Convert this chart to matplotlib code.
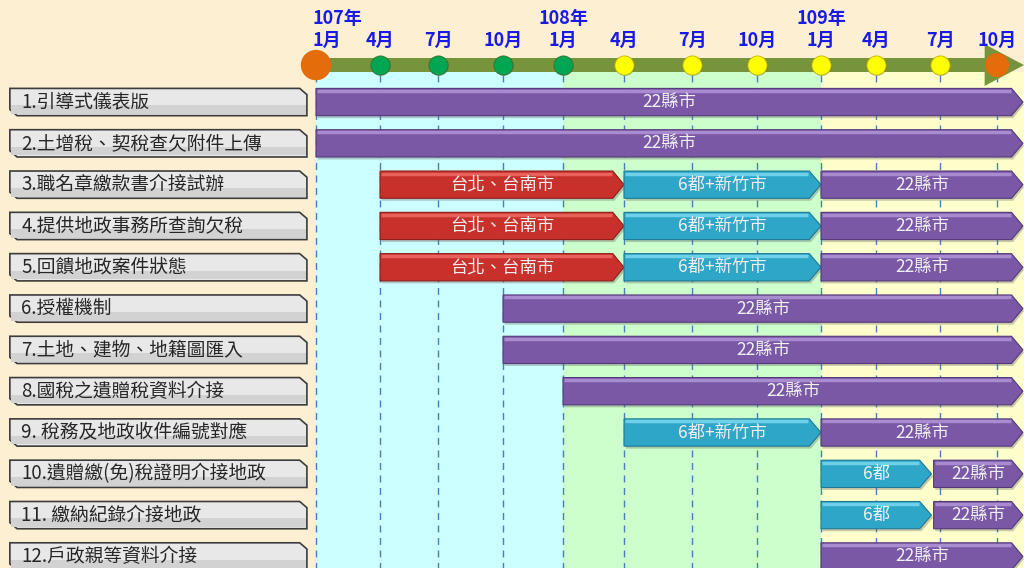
import matplotlib
matplotlib.use("Agg")
import matplotlib.pyplot as plt
from matplotlib.patches import Polygon, Rectangle
import numpy as np

plt.rcParams['font.family'] = ['Noto Sans CJK TC', 'DejaVu Sans']

# months counted from 107年1月
tick_months = [0, 3, 6, 9, 12, 15, 18, 21, 24, 27, 30, 33]
tick_labels = ['1月', '4月', '7月', '10月', '1月', '4月', '7月', '10月', '1月', '4月', '7月', '10月']
year_months = [0, 12, 24]
year_labels = ['107年', '108年', '109年']
dot_colors = ['#E46C0A', '#00A651', '#00A651', '#00A651', '#00A651',
              '#FFFF00', '#FFFF00', '#FFFF00', '#FFFF00', '#FFFF00', '#FFFF00', '#E46C0A']

tasks = ['1.引導式儀表版', '2.土增稅、契稅查欠附件上傳', '3.職名章繳款書介接試辦',
         '4.提供地政事務所查詢欠稅', '5.回饋地政案件狀態', '6.授權機制',
         '7.土地、建物、地籍圖匯入', '8.國稅之遺贈稅資料介接', '9. 稅務及地政收件編號對應',
         '10.遺贈繳(免)稅證明介接地政', '11. 繳納紀錄介接地政', '12.戶政親等資料介接']

OPEN = 34.25  # runs on past the right edge
seg_row = [0, 1, 2, 2, 2, 3, 3, 3, 4, 4, 4, 5, 6, 7, 8, 8, 9, 9, 10, 10, 11]
seg_start = [0, 0, 3, 15, 24, 3, 15, 24, 3, 15, 24, 9, 9, 12, 15, 24, 24, 29.7, 24, 29.7, 24]
seg_end = [OPEN, OPEN, 15, 24, OPEN, 15, 24, OPEN, 15, 24, OPEN, OPEN, OPEN, OPEN, 24, OPEN, 29.6, OPEN, 29.6, OPEN, OPEN]
seg_group = ['p', 'p', 'r', 'c', 'p', 'r', 'c', 'p', 'r', 'c', 'p', 'p', 'p', 'p', 'c', 'p', 'c', 'p', 'c', 'p', 'p']
group_text = {'p': '22縣市', 'r': '台北、台南市', 'c': '6都+新竹市'}
seg_text = [group_text[g] for g in seg_group]
seg_text[16] = '6都'
seg_text[18] = '6都'

colors = {'p': ('#7A58A6', '#A98BD0', '#55397A'),
          'r': ('#C8312B', '#E8615A', '#8E1E1A'),
          'c': ('#2EA6C8', '#6FD0EA', '#1F7A96')}

# the quarters are not evenly spaced on the original slide
scale_m = [-14.92, 0, 3, 6, 9, 12, 15, 18, 21, 24, 27, 30, 33, 34.3]
scale_px = [8, 316, 380, 438, 503, 563, 624, 692, 757, 821, 876, 940, 997, 1024]


def fwd(x):
    return np.interp(x, scale_m, scale_px)


def inv(p):
    return np.interp(p, scale_px, scale_m)


fig = plt.figure(figsize=(10.24, 5.68), dpi=100, facecolor='#FDF0D2')
ax = fig.add_axes([8 / 1024, 0, 1016 / 1024, 558 / 568])
ax.set_facecolor('white')
ax.set_xscale('function', functions=(fwd, inv))
ax.set_xlim(-14.92, 34.3)
ax.set_ylim(11.28, -2.228)
ax.axis('off')

# period shading
shade_top = -0.73
ax.add_patch(Rectangle((0, shade_top), 12, 13, facecolor='#CCFFFF', edgecolor='none', zorder=0))
ax.add_patch(Rectangle((12, shade_top), 12, 13, facecolor='#CCFFCC', edgecolor='none', zorder=0))
ax.add_patch(Rectangle((24, shade_top), 10.3, 13, facecolor='#FFFFCC', edgecolor='none', zorder=0))

for m in tick_months:
    ax.plot([m, m], [-0.66, 11.3], color='#4A7EBB', lw=1, ls=(0, (5, 4)), zorder=1)

# timeline arrow
ax.add_patch(Rectangle((0, -1.065), 32.5, 0.34, facecolor='#77933C', edgecolor='none', zorder=2))
ax.add_patch(Polygon([(32.35, -1.40), (34.3, -0.895), (32.35, -0.39)],
                     closed=True, facecolor='#77933C', edgecolor='none', zorder=2))
for m, c in zip(tick_months, dot_colors):
    if c == '#E46C0A':
        size = 480 if m == 0 else 300
        ax.scatter(m, -0.895, s=size, color=c, zorder=4, edgecolors='none')
    else:
        ax.scatter(m + 0.05, -0.87, s=200, color='#555555', alpha=0.35, zorder=3, edgecolors='none')
        ax.scatter(m, -0.895, s=190, color=c, zorder=4,
                   edgecolors='#3A6E2A' if c == '#00A651' else '#C8B400', linewidths=0.6)

for m, lab in zip(tick_months, tick_labels):
    ha, xx = ('left', m - 0.15) if m == 0 else ('center', m)
    ax.text(xx, -1.50, lab, ha=ha, va='center', fontsize=13, fontweight='bold', color='#1A1AE6', zorder=5)
for m, lab in zip(year_months, year_labels):
    ha, xx = ('left', m - 0.15) if m == 0 else ('center', m)
    ax.text(xx, -2.02, lab, ha=ha, va='center', fontsize=13, fontweight='bold', color='#1A1AE6', zorder=5)

# task label boxes
h = 0.66
bx0, bx1, cut = -14.83, -0.44, 0.35
for i, name in enumerate(tasks):
    top, bot = i - h / 2, i + h / 2
    pts = [(bx0, top), (bx1 - cut, top), (bx1, top + 0.15), (bx1, bot),
           (bx0 + cut, bot), (bx0, bot - 0.15)]
    ax.add_patch(Polygon(pts, closed=True, facecolor='#E8E8E8', edgecolor='#3C3C3C', lw=1.2, zorder=3))
    ax.add_patch(Rectangle((bx0 + 0.05, i + 0.08), bx1 - bx0 - 0.1, h / 2 - 0.12,
                           facecolor='#D2D2D2', edgecolor='none', zorder=3))
    ax.text(bx0 + 0.55, i, name, ha='left', va='center', fontsize=13.5, color='#262626', zorder=4)

# bars
tip = 0.55
for r, x0, x1, g, txt in zip(seg_row, seg_start, seg_end, seg_group, seg_text):
    base, light, dark = colors[g]
    top, bot = r - h / 2, r + h / 2
    pts = [(x0, top), (x1 - tip, top), (x1, r), (x1 - tip, bot), (x0, bot)]
    shadow = [(x + 0.08, y + 0.06) for x, y in pts]
    ax.add_patch(Polygon(shadow, closed=True, facecolor='#666666', alpha=0.35, edgecolor='none', zorder=3))
    ax.add_patch(Polygon(pts, closed=True, facecolor=base, edgecolor=dark, lw=0.8, zorder=4))
    ax.plot([x0 + 0.05, x1 - tip - 0.05], [top + 0.06, top + 0.06], color=light, lw=2.5,
            solid_capstyle='butt', zorder=5)
    xc = inv((fwd(x0) + fwd(min(x1, 34.3))) / 2)
    ax.text(xc, r, txt, ha='center', va='center', fontsize=12.5,
            color='#F0F0F0', zorder=6)

fig.savefig('out.png', dpi=100, facecolor=fig.get_facecolor())
